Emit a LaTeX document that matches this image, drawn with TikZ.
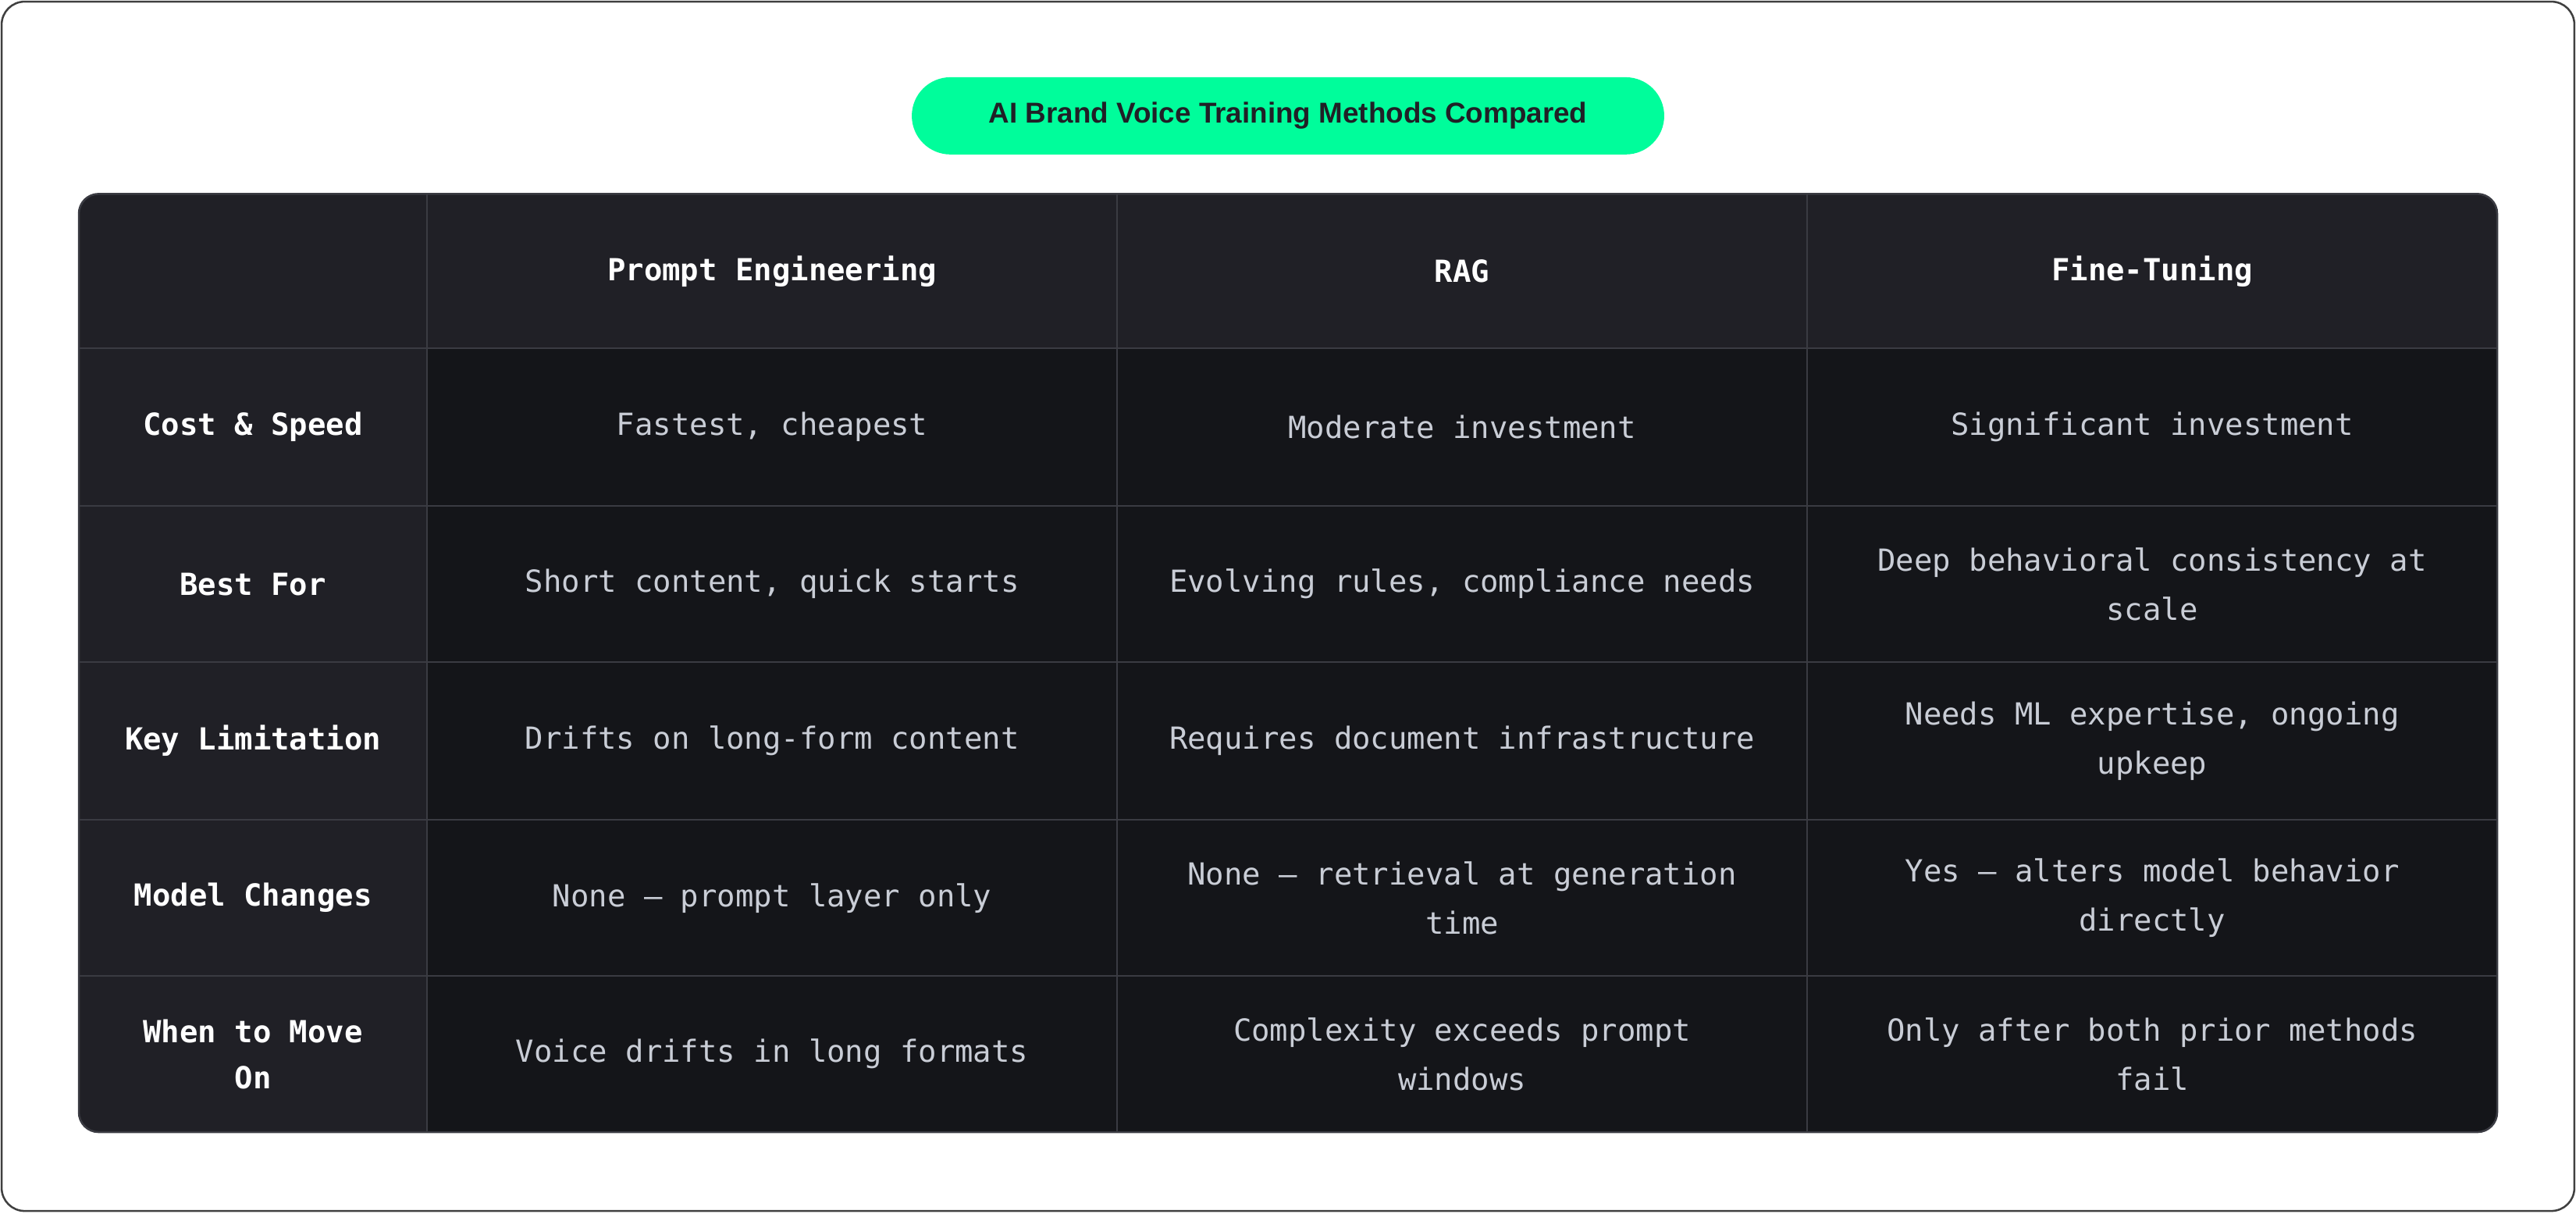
\documentclass[tikz,border=0pt]{standalone}
\usepackage{fontspec}
\setmainfont{Liberation Sans}
\setmonofont{DejaVu Sans Mono}
\begin{document}
\begin{tikzpicture}[x=1pt,y=-1pt,
  hdr/.style={font=\ttfamily\bfseries\fontsize{18.5}{28}\selectfont,text=white,align=center},
  cell/.style={font=\ttfamily\fontsize{18.5}{30}\selectfont,text=bodyc,align=center}]
\definecolor{hdrbg}{HTML}{202026}
\definecolor{cellbg}{HTML}{141519}
\definecolor{gridc}{HTML}{3A3B42}
\definecolor{bodyc}{HTML}{C9CDD6}
\definecolor{pill}{HTML}{00FD9B}
\useasboundingbox (0,0) rectangle (1568,738.4);
\draw[draw=black!75,line width=1.2pt,rounded corners=14] (1,1) rectangle (1567,737);
\node[fill=pill,rounded corners=23.5,minimum width=458,minimum height=47,inner sep=0,
  font=\bfseries\fontsize{17.5}{20}\selectfont,text=hdrbg] (title) at (784,70.5) {AI Brand Voice Training Methods Compared};
\begin{scope}
\clip[rounded corners=12] (48,118) rectangle (1520,689);
\fill[cellbg] (48,118) rectangle (1520,689);
\fill[hdrbg] (48,118) rectangle (1520,212);
\fill[hdrbg] (48,118) rectangle (260,689);
\foreach \x in {260,680,1100} \draw[gridc,line width=1.2pt] (\x,118) -- (\x,689);
\foreach \y in {212,308,403,499,594} \draw[gridc,line width=1.2pt] (48,\y) -- (1520,\y);
\end{scope}
\draw[gridc,line width=1.2pt,rounded corners=12] (48,118) rectangle (1520,689);
% header
\node[hdr] (h1) at (470,165) {Prompt Engineering};
\node[hdr] (h2) at (890,165) {RAG};
\node[hdr] (h3) at (1310,165) {Fine-Tuning};
% row labels
\node[hdr] (r1) at (154,260) {Cost \& Speed};
\node[hdr] (r2) at (154,355.5) {Best For};
\node[hdr] (r3) at (154,451) {Key Limitation};
\node[hdr] (r4) at (154,546.5) {Model Changes};
\node[hdr] (r5) at (154,641.5) {When to Move\\On};
% cells
\node[cell] (c11) at (470,260) {Fastest, cheapest};
\node[cell] (c12) at (890,260) {Moderate investment};
\node[cell] (c13) at (1310,260) {Significant investment};
\node[cell] (c21) at (470,355.5) {Short content, quick starts};
\node[cell] (c22) at (890,355.5) {Evolving rules, compliance needs};
\node[cell] (c23) at (1310,355.5) {Deep behavioral consistency at\\scale};
\node[cell] (c31) at (470,451) {Drifts on long-form content};
\node[cell] (c32) at (890,451) {Requires document infrastructure};
\node[cell] (c33) at (1310,451) {Needs ML expertise, ongoing\\upkeep};
\node[cell] (c41) at (470,546.5) {None — prompt layer only};
\node[cell] (c42) at (890,546.5) {None — retrieval at generation\\time};
\node[cell] (c43) at (1310,546.5) {Yes — alters model behavior\\directly};
\node[cell] (c51) at (470,641.5) {Voice drifts in long formats};
\node[cell] (c52) at (890,641.5) {Complexity exceeds prompt\\windows};
\node[cell] (c53) at (1310,641.5) {Only after both prior methods\\fail};
\end{tikzpicture}
\end{document}
